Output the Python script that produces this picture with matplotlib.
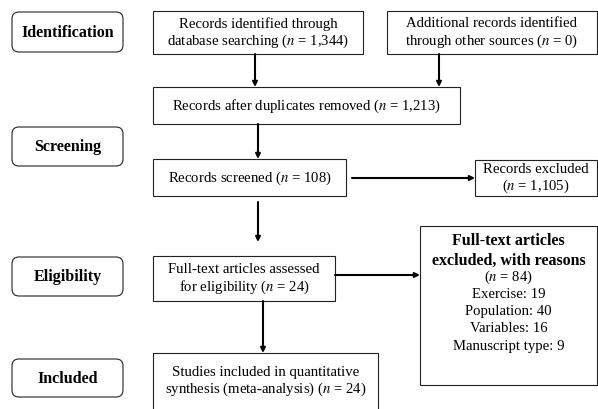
# -*- coding: utf-8 -*-
"""PRISMA flow diagram of the study selection."""
import matplotlib
matplotlib.use('Agg')
import matplotlib.pyplot as plt
from matplotlib.patches import FancyBboxPatch, Rectangle

plt.rcParams['font.family'] = ['Liberation Serif', 'DejaVu Serif']
plt.rcParams['mathtext.fontset'] = 'stix'

# stage labels on the left
stages = ['Identification', 'Screening', 'Eligibility', 'Included']

# record counts at each step
n_identified = 1344
n_other = 0
n_after_dup = 1213
n_screened = 108
n_excluded = 1105
n_fulltext = 24
n_fulltext_excluded = 84
n_included = 24

# reasons for full-text exclusion
reasons = ['Exercise', 'Population', 'Variables', 'Manuscript type']
reason_counts = [19, 40, 16, 9]

W, H = 598, 410
FS = 10.6
FS_BOLD = 11.5


def n_txt(v):
    return f"($n$ = {v:,})"


fig = plt.figure(figsize=(W / 100, H / 100), dpi=100)
ax = fig.add_axes([0, 0, 1, 1])
ax.set_xlim(0, W)
ax.set_ylim(H, 0)
ax.axis('off')


def box(x0, y0, x1, y1, text=None, ty=None):
    ax.add_patch(Rectangle((x0, y0), x1 - x0, y1 - y0, fill=False,
                           edgecolor='#222222', linewidth=0.8, clip_on=True))
    if text is not None:
        ax.text((x0 + x1) / 2, (y0 + y1) / 2 if ty is None else ty, text,
                ha='center', va='center', fontsize=FS, linespacing=1.2)


def arrow(x0, y0, x1, y1):
    ax.annotate('', xy=(x1, y1), xytext=(x0, y0),
                arrowprops=dict(arrowstyle='-|>', color='black', lw=1.5,
                                mutation_scale=7, shrinkA=0, shrinkB=0))


# stage boxes (rounded)
stage_y = [(13, 53), (128, 167), (258, 297), (360, 398)]
for label, (y0, y1) in zip(stages, stage_y):
    ax.add_patch(FancyBboxPatch((12, y0), 111, y1 - y0,
                                boxstyle='round,pad=0,rounding_size=7',
                                fill=False, edgecolor='#222222', linewidth=0.8))
    ax.text(67.5, (y0 + y1) / 2, label, ha='center', va='center',
            fontsize=FS_BOLD, fontweight='bold')

# flow boxes
box(153, 12, 363, 55,
    f"Records identified through\ndatabase searching {n_txt(n_identified)}")
box(387, 12, 597, 55,
    f"Additional records identified\nthrough other sources {n_txt(n_other)}")
box(153, 88, 460, 125,
    f"Records after duplicates removed {n_txt(n_after_dup)}")
box(153, 160, 346, 197, f"Records screened {n_txt(n_screened)}")
box(475, 161, 597, 197, f"Records excluded\n{n_txt(n_excluded)}")
box(153, 257, 335, 302,
    f"Full-text articles assessed\nfor eligibility {n_txt(n_fulltext)}")
box(153, 354, 378, 420,
    f"Studies included in quantitative\n"
    f"synthesis (meta-analysis) {n_txt(n_included)}", ty=382)

# full-text exclusion box with reasons
box(420, 227, 597, 386)
ax.text(508.5, 251, "Full-text articles\nexcluded, with reasons",
        ha='center', va='center', fontsize=FS_BOLD, fontweight='bold',
        linespacing=1.25)
lines = [n_txt(n_fulltext_excluded)] + [f"{r}: {c}" for r, c in zip(reasons, reason_counts)]
for i, line in enumerate(lines):
    ax.text(508.5, 277 + i * 17.3, line, ha='center', va='center', fontsize=FS)

# arrows
arrow(255, 55, 255, 88)
arrow(439, 55, 439, 88)
arrow(258, 125, 258, 160)
arrow(352, 179, 475, 179)
arrow(258, 203, 258, 243)
arrow(335, 276, 420, 276)
arrow(263, 302, 263, 354)

fig.savefig('out.png', dpi=100)
plt.close(fig)
